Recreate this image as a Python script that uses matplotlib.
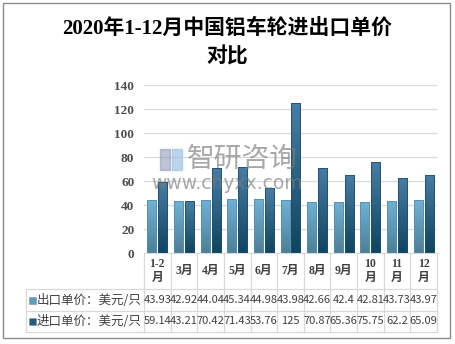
import matplotlib
matplotlib.use("Agg")
import matplotlib.pyplot as plt
import numpy as np
from matplotlib.colors import LinearSegmentedColormap
from matplotlib.patches import Rectangle
from matplotlib.transforms import blended_transform_factory

plt.rcParams["font.family"] = ["Noto Sans CJK SC", "DejaVu Sans"]

months = ["1-2\n月", "3月", "4月", "5月", "6月", "7月", "8月", "9月", "10\n月", "11\n月", "12\n月"]
export_price = [43.93, 42.92, 44.04, 45.34, 44.98, 43.98, 42.66, 42.4, 42.81, 43.73, 43.97]
import_price = [59.14, 43.21, 70.42, 71.43, 53.76, 125, 70.87, 65.36, 75.75, 62.2, 65.09]
export_label = "出口单价：美元/只"
import_label = "进口单价：美元/只"
export_text = ["43.93", "42.92", "44.04", "45.34", "44.98", "43.98", "42.66", "42.4", "42.81", "43.73", "43.97"]
import_text = ["59.14", "43.21", "70.42", "71.43", "53.76", "125", "70.87", "65.36", "75.75", "62.2", "65.09"]

W, H = 455, 344
fig = plt.figure(figsize=(W / 100, H / 100), dpi=100)

def fx(px):
    return px / W

def fy(py):
    return 1 - py / H

# outer frame
fig.patches.append(Rectangle((fx(3), fy(338)), fx(447), (335) / H, transform=fig.transFigure,
                             fill=False, edgecolor="#8C8C8C", linewidth=1.0))

title_font = ["Liberation Serif", "Noto Sans CJK SC"]
fig.text(0.5, fy(29), "2020年1-12月中国铝车轮进出口单价", ha="center", va="center",
         fontsize=15, fontweight="bold", family=title_font)
fig.text(0.5, fy(57), "对比", ha="center", va="center",
         fontsize=15, fontweight="bold", family=title_font)

left, right, top, bottom = 144, 437, 85, 253
ax = fig.add_axes([fx(left), fy(bottom), fx(right - left), (bottom - top) / H])
ax.set_yticks(range(0, 141, 20))
ax.set_xticks([])
ax.grid(axis="y", color="#D9D9D9", linewidth=0.9)
ax.set_axisbelow(True)
for s in ["top", "right", "left"]:
    ax.spines[s].set_visible(False)
ax.spines["bottom"].set_color("#D9D9D9")
ax.tick_params(axis="y", length=0, pad=7, colors="#4D4D4D")
for lab in ax.get_yticklabels():
    lab.set_family(["Liberation Serif"])
    lab.set_fontweight("bold")
    lab.set_fontsize(9.5)

x = np.arange(len(months))
bw = 0.34
off = 0.205
light_cmap = LinearSegmentedColormap.from_list("light", ["#4C8098", "#6EB2D6"])
dark_cmap = LinearSegmentedColormap.from_list("dark", ["#0E4560", "#477DA5"])
grad = np.linspace(0, 1, 64).reshape(-1, 1)

def draw_bars(xs, vals, cmap, edge):
    bars = ax.bar(xs, vals, width=bw, color="none", edgecolor=edge, linewidth=0.6, zorder=3)
    for b in bars:
        x0, w, h = b.get_x(), b.get_width(), b.get_height()
        im = ax.imshow(grad, cmap=cmap, aspect="auto", origin="lower",
                       extent=(x0, x0 + w, 0, h), zorder=2)
        im.set_clip_path(b)
    return bars

draw_bars(x - off, export_price, light_cmap, "#5A8EA8")
draw_bars(x + off, import_price, dark_cmap, "#1E506B")
ax.set_xlim(-0.5, len(months) - 0.5)
ax.set_ylim(0, 140)

# watermark
fig.patches.append(Rectangle((fx(160), fy(170)), fx(10), 21 / H, transform=fig.transFigure,
                             color="#8A95B5", alpha=0.55, zorder=5))
fig.patches.append(Rectangle((fx(172), fy(170)), fx(10), 21 / H, transform=fig.transFigure,
                             color="#9DC3E6", alpha=0.7, zorder=5))
fig.text(fx(242), fy(159), "智研咨询", ha="center", va="center", fontsize=20,
         color="#7A7A7A", alpha=0.65, zorder=6)
fig.text(fx(227), fy(184), "www.chyxx.com", ha="center", va="center", fontsize=13.5,
         color="#7A7A7A", alpha=0.65, zorder=6, family=["DejaVu Sans"])

# data table under the axis
tr = blended_transform_factory(ax.transData, fig.transFigure)
line_c = "#D9D9D9"
r0, r1, r2, r3 = bottom, 289, 311, 332
for i in range(len(months) + 1):
    xv = i - 0.5
    fig.add_artist(plt.Line2D([xv, xv], [fy(r0), fy(r3)], transform=tr, color=line_c, linewidth=0.9))
for ry in (r1, r2, r3):
    fig.add_artist(plt.Line2D([fx(26), fx(right)], [fy(ry), fy(ry)], transform=fig.transFigure,
                              color=line_c, linewidth=0.9))
fig.add_artist(plt.Line2D([fx(26), fx(26)], [fy(r1), fy(r3)], transform=fig.transFigure,
                          color=line_c, linewidth=0.9))

cat_font = ["Liberation Serif", "Noto Sans CJK SC"]
for xi, m in zip(x, months):
    fig.text(xi, fy((r0 + r1) / 2), m, transform=tr, ha="center", va="center", fontsize=8.5,
             fontweight="bold", family=cat_font, color="#404040", linespacing=1.25)

for xi, a, b in zip(x, export_text, import_text):
    fig.text(xi, fy((r1 + r2) / 2), a, transform=tr, ha="center", va="center", fontsize=8,
             color="#404040")
    fig.text(xi, fy((r2 + r3) / 2), b, transform=tr, ha="center", va="center", fontsize=8,
             color="#404040")

for ry, lab, c in (((r1 + r2) / 2, export_label, "#5B9EC0"), ((r2 + r3) / 2, import_label, "#245C7C")):
    fig.patches.append(Rectangle((fx(29), fy(ry + 3.5)), fx(7), 7 / H, transform=fig.transFigure,
                                 facecolor=c, edgecolor="#8C8C8C", linewidth=0.4))
    fig.text(fx(37), fy(ry), lab, ha="left", va="center", fontsize=9, color="#404040")

fig.savefig("out.png", dpi=100)
